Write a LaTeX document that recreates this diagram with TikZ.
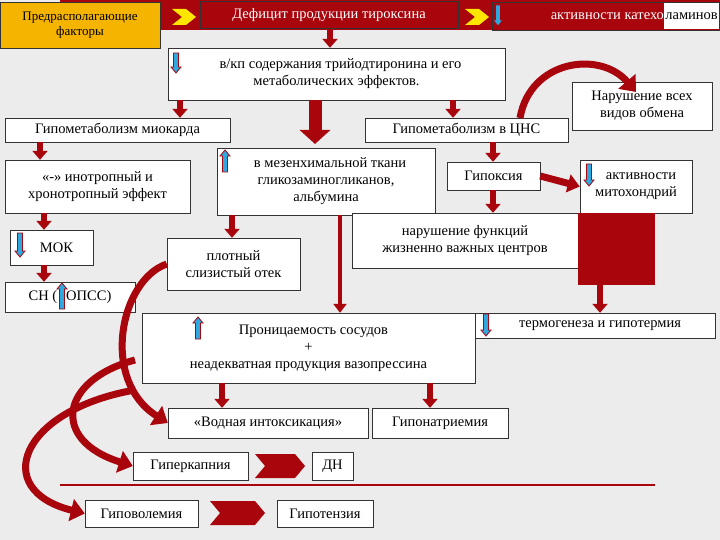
\documentclass[tikz,border=0pt]{standalone}
\usepackage{fontspec}
\setmainfont{Liberation Serif}
\usetikzlibrary{arrows.meta}
\definecolor{dred}{rgb}{0.66,0.02,0.05}
\definecolor{bgg}{HTML}{ECECEC}
\definecolor{ora}{HTML}{F5B400}
\definecolor{yel}{HTML}{FFE600}
\definecolor{icb}{HTML}{2FA8E0}
\tikzset{
 box/.style={draw=black!80,fill=white,inner sep=1pt,align=center,font=\fontsize{14.5}{17}\selectfont},
 blk/.style={draw=dred,line width=6pt,-{Triangle[length=9pt,width=15pt]}},
 thinblk/.style={draw=dred,line width=4pt,-{Triangle[length=9pt,width=13pt]}},
 curv/.style={draw=dred,line width=7pt,-{Triangle[length=14pt,width=22pt]}},
}
\newcommand\bx[6]{\node[box,minimum width={#4-#2},minimum height={#5-#3}] (#1) at ({(#2+#4)/2},{(#3+#5)/2}) {#6};}
\newcommand\icdown[3]{\fill[icb,draw=dred,line width=0.8pt] (#1-2.5,#2) -- (#1+2.5,#2) -- (#1+2.5,#2+#3-6) -- (#1+5,#2+#3-6) -- (#1,#2+#3) -- (#1-5,#2+#3-6) -- (#1-2.5,#2+#3-6) -- cycle;}
\newcommand\icup[3]{\fill[icb,draw=dred,line width=0.8pt] (#1-2.5,#2+#3) -- (#1+2.5,#2+#3) -- (#1+2.5,#2+6) -- (#1+5,#2+6) -- (#1,#2) -- (#1-5,#2+6) -- (#1-2.5,#2+6) -- cycle;}
\newcommand\chv[5]{\fill[#5] (#1,#2-#4) -- (#1+#3-10,#2-#4) -- (#1+#3,#2) -- (#1+#3-10,#2+#4) -- (#1,#2+#4) -- (#1+10,#2) -- cycle;}
\begin{document}
\begin{tikzpicture}[x=1pt,y=-1pt]
\fill[bgg] (0,0) rectangle (720,540);
\useasboundingbox (0,0) rectangle (720,540);
% top band
\fill[dred] (60,0) rectangle (719.5,30);
\node[box,fill=ora,minimum width=160,minimum height=46,font=\fontsize{13}{15.5}\selectfont] (pre) at (80,25) {Предрасполагающие\\факторы};
\node[box,fill=dred,text=white,minimum width=258,minimum height=27] (def) at (329,15) {Дефицит продукции тироксина};
\node[font=\fontsize{14.5}{17}\selectfont,anchor=east,inner sep=1pt] (lam) at (719,16) {ламинов};
\fill[white] (lam.west |- 0,2) rectangle (719.5,29.5);
\node[font=\fontsize{14.5}{17}\selectfont,anchor=east,inner sep=1pt] at (719,16) {ламинов};
\node[font=\fontsize{14.5}{17}\selectfont,anchor=east,inner sep=0pt,text=white] (kat) at (lam.west) {активности катехо};
\draw[black!80] (492,2) rectangle (719.5,30);
\chv{172}{17}{24}{8}{yel}
\chv{465}{17}{24}{8}{yel}
\icdown{498}{5}{21}
% boxes
\bx{t3}{168}{48}{505}{100}{\hspace{8pt}в/кп содержания трийодтиронина и его\\метаболических эффектов.}
\icdown{176}{53}{20}
\bx{hm}{5}{118}{230}{142}{Гипометаболизм миокарда}
\bx{hc}{365}{118}{568}{142}{Гипометаболизм в ЦНС}
\bx{nv}{572}{82}{712}{130}{Нарушение всех\\видов обмена}
\bx{ino}{5}{160}{190}{213}{«-» инотропный и\\хронотропный эффект}
\bx{mes}{217}{148}{435}{215}{\hspace{8pt}в мезенхимальной ткани\\гликозаминогликанов,\\альбумина}
\icup{225}{150}{22}
\bx{hyp}{447}{162}{540}{190}{Гипоксия}
\bx{mit}{580}{160}{692}{213}{\hspace{10pt}активности\\митохондрий}
\icdown{589}{164}{22}
\bx{nf}{352}{213}{578}{268}{нарушение функций\\жизненно важных центров}
\fill[dred] (578,213) rectangle (655,285);
\bx{mok}{10}{230}{93}{265}{\hspace{10pt}МОК}
\icdown{20}{233}{24}
\bx{plo}{167}{238}{300}{290}{плотный\\слизистый отек}
\bx{sn}{5}{282}{135}{312}{СН (\hspace{9pt}ОПСС)}
\icup{62}{283}{26}
\bx{pr}{142}{313}{475}{383}{\hspace{10pt}Проницаемость сосудов\\+\\неадекватная продукция вазопрессина}
\icup{198}{317}{22}
\bx{th}{475}{313}{715}{338}{\hspace{10pt}термогенеза и гипотермия}
\icdown{486}{314}{22}
\bx{vod}{168}{408}{368}{438}{«Водная интоксикация»}
\bx{gna}{372}{408}{508}{438}{Гипонатриемия}
\bx{gk}{133}{452}{248}{480}{Гиперкапния}
\bx{dn}{312}{452}{353}{480}{ДН}
\draw[dred,line width=1.5pt] (60,485) -- (655,485);
\bx{gv}{85}{500}{198}{527}{Гиповолемия}
\bx{gt}{277}{500}{373}{527}{Гипотензия}
% arrows
\draw[blk] (330,0 |- def.south) -- (330,0 |- t3.north);
\draw[blk] (180,0 |- t3.south) -- (180,0 |- hm.north);
\draw[blk] (453,0 |- t3.south) -- (453,0 |- hc.north);
\draw[draw=dred,line width=13pt,-{Triangle[length=14pt,width=30pt]}] (315,0 |- t3.south) -- (315,144);
\draw[blk] (40,0 |- hm.south) -- (40,0 |- ino.north);
\draw[blk] (493,0 |- hc.south) -- (493,0 |- hyp.north);
\draw[blk] (44,0 |- ino.south) -- (44,0 |- mok.north);
\draw[blk] (44,0 |- mok.south) -- (44,0 |- sn.north);
\draw[blk] (232,0 |- mes.south) -- (232,0 |- plo.north);
\draw[thinblk] (340,0 |- mes.south) -- (340,0 |- pr.north);
\draw[blk] (493,0 |- hyp.south) -- (493,0 |- nf.north);
\draw[draw=dred,line width=7pt,-{Triangle[length=12pt,width=18pt]}] (hyp.east) -- (mit.west);
\draw[blk] (600,285) -- (600,0 |- th.north);
\draw[blk] (222,0 |- pr.south) -- (222,0 |- vod.north);
\draw[blk] (430,0 |- pr.south) -- (430,0 |- gna.north);
\chv{255}{466}{50}{12}{dred}
\chv{210}{513}{55}{12}{dred}
% curved arrows
\coordinate (nvend) at (636,92);
\draw[curv] (520,118) .. controls (530,60) and (600,50) .. (nvend);
\draw[curv] (plo.west) .. controls (120,280) and (100,380) .. (vod.west);
\draw[curv] (135,360) .. controls (60,380) and (50,440) .. (gk.west);
\draw[curv] (135,390) .. controls (20,410) and (-10,490) .. (gv.west);
\end{tikzpicture}
\end{document}
